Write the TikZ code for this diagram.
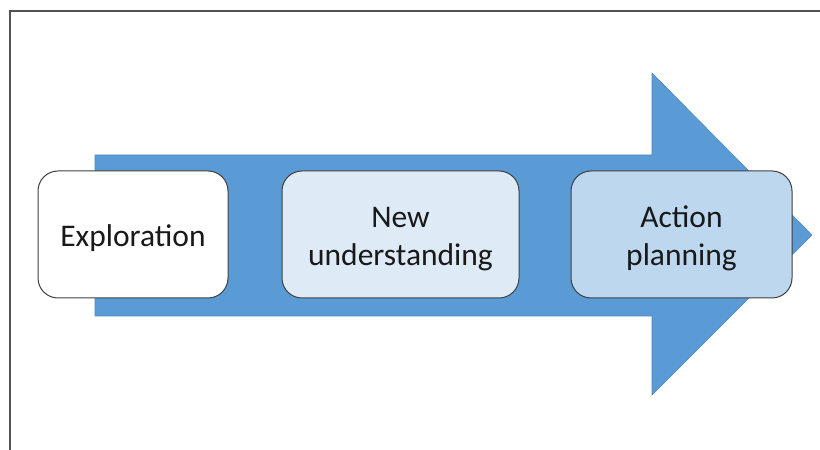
\documentclass[tikz,border=0pt]{standalone}
\usepackage{fontspec}
\setmainfont{Carlito}
\usepackage{xcolor}
\usetikzlibrary{positioning}
\definecolor{arrowBlue}{HTML}{5B9BD5}
\definecolor{arrowEdge}{HTML}{5088C2}
\definecolor{paleBlue}{HTML}{DEEBF7}
\definecolor{lightBlue}{HTML}{BDD7EE}
\definecolor{edgeGray}{HTML}{3F3F3F}
\newcommand{\toplift}{\rule{0pt}{30pt}}
\tikzset{
    stage/.style={rectangle, draw=edgeGray, line width=1pt, rounded corners=20pt, align=center,
        minimum height=127pt, inner sep=0pt, font=\fontsize{31.5}{38}\selectfont, text=black!90},
    bigArrow/.style={fill=arrowBlue, draw=arrowEdge, line width=0.6pt},
    frame/.style={draw=edgeGray!90, line width=1.6pt}
}

\begin{document}
\begin{tikzpicture}[x=1pt, y=1pt]
        \useasboundingbox (0,0) rectangle (820,450);
        \draw[frame] (10,0) -- (10,439) -- (820,439);
        
        % background arrow
        \draw[bigArrow] (95,134) -- (652,134) -- (652,55) -- (812,215) -- (652,377) -- (652,295) -- (95,295) -- cycle;
        
        \node[stage, fill=white, minimum width=190pt] (Explore) at (133,215.5) {\toplift Exploration};
        \node[stage, fill=paleBlue, minimum width=237pt, right=53pt of Explore] (Understand) {\toplift New\\understanding};
        \node[stage, fill=lightBlue, minimum width=221pt, right=51pt of Understand] (Plan) {\toplift Action\\planning};
    \end{tikzpicture}
\end{document}
